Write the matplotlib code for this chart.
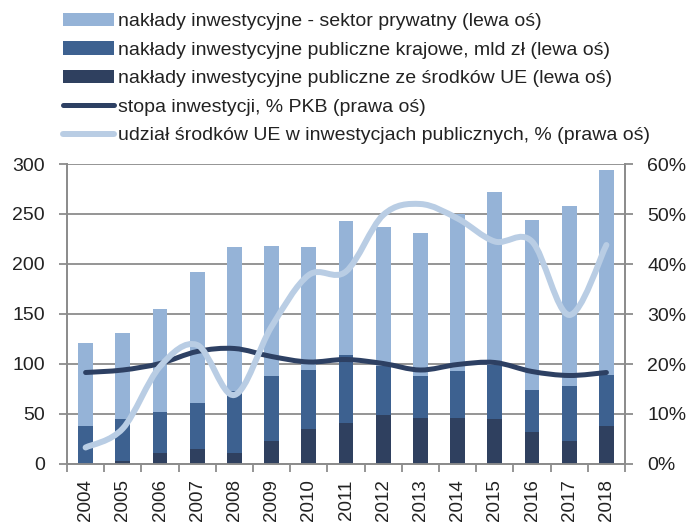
import numpy as np
import matplotlib
matplotlib.use("Agg")
import matplotlib.pyplot as plt
from matplotlib.path import Path
from matplotlib.patches import PathPatch, Patch
from matplotlib.lines import Line2D
from matplotlib.ticker import FuncFormatter, MultipleLocator

plt.rcParams["font.family"] = ["Liberation Sans", "DejaVu Sans"]

YEARS = ["2004", "2005", "2006", "2007", "2008", "2009", "2010", "2011",
         "2012", "2013", "2014", "2015", "2016", "2017", "2018"]
# totals (left axis, mld zl)
TOTAL = [120.7, 131, 155, 191.7, 217, 218.3, 217, 243.3,
         237.3, 231, 250, 271.7, 244.3, 257.7, 294.3]
# top of the "publiczne krajowe" segment
PUBLIC_TOP = [38, 45, 52, 61.3, 73, 88, 94, 109.3,
              98, 88.3, 93.3, 99, 74.3, 78, 88.7]
EU_FUNDS = [0, 3, 10.7, 14.7, 10.7, 23.3, 35.3, 41.3,
            49, 45.7, 45.7, 45, 32.3, 23.3, 38.3]
INV_RATE = [18.3, 18.8, 20.1, 22.5, 23.1, 21.5, 20.4, 20.9,
            20.1, 18.8, 19.9, 20.3, 18.5, 17.7, 18.3]
EU_SHARE = [3.3, 7.1, 19.5, 23.8, 13.8, 27.5, 37.8, 38.5,
            49.8, 52.0, 49.1, 44.5, 44.5, 29.8, 43.8]

LABELS = [
    "nakłady inwestycyjne - sektor prywatny (lewa oś)",
    "nakłady inwestycyjne publiczne krajowe, mld zł (lewa oś)",
    "nakłady inwestycyjne publiczne ze środków UE (lewa oś)",
    "stopa inwestycji, % PKB (prawa oś)",
    "udział środków UE w inwestycjach publicznych, % (prawa oś)",
]

C_PRIV = "#95B3D7"
C_PUB = "#3D6190"
C_EU = "#2F405F"
C_RATE = "#2D4063"
C_SHARE = "#B9CDE4"
GRID = "#8c8c8c"
TXT = "#222222"


def smooth_path(x, y):
    # Excel-like smoothed line: cubic bezier with catmull-rom tangents
    x = np.asarray(x, float)
    y = np.asarray(y, float)
    verts = [(x[0], y[0])]
    codes = [Path.MOVETO]
    n = len(x)
    for i in range(n - 1):
        p0 = i - 1 if i > 0 else i
        p3 = i + 2 if i + 2 < n else i + 1
        c1 = (x[i] + (x[i + 1] - x[p0]) / 6, y[i] + (y[i + 1] - y[p0]) / 6)
        c2 = (x[i + 1] - (x[p3] - x[i]) / 6, y[i + 1] - (y[p3] - y[i]) / 6)
        verts += [c1, c2, (x[i + 1], y[i + 1])]
        codes += [Path.CURVE4] * 3
    return Path(verts, codes)


fig = plt.figure(figsize=(6.88, 5.24), dpi=100)
ax = fig.add_axes([67 / 688, 60 / 524, 558 / 688, 300 / 524])
ax2 = ax.twinx()

x = np.arange(len(YEARS))
total = np.array(TOTAL)
pub = np.array(PUBLIC_TOP)
eu = np.array(EU_FUNDS)
w = 0.4
ax.bar(x, eu, w, color=C_EU, zorder=3)
ax.bar(x, pub - eu, w, bottom=eu, color=C_PUB, zorder=3)
ax.bar(x, total - pub, w, bottom=pub, color=C_PRIV, zorder=3)

ax.set_ylim(0, 300)
ax.set_xlim(-0.5, len(YEARS) - 0.5)
ax.yaxis.set_major_locator(MultipleLocator(50))
ax.grid(axis="y", color=GRID, linewidth=1.3, zorder=0)
ax.set_axisbelow(True)

ax2.set_ylim(0, 60)
ax2.yaxis.set_major_locator(MultipleLocator(10))
ax2.yaxis.set_major_formatter(FuncFormatter(lambda v, p: f"{v:.0f}%"))

ax2.add_patch(PathPatch(smooth_path(x, INV_RATE), fill=False, edgecolor=C_RATE,
                        linewidth=3.6, capstyle="round", joinstyle="round"))
ax2.add_patch(PathPatch(smooth_path(x, EU_SHARE), fill=False, edgecolor=C_SHARE,
                        linewidth=4.3, capstyle="round", joinstyle="round"))

ax.set_xticks(x)
ax.set_xticklabels(YEARS, rotation=90, fontsize=13.5, color=TXT)
ax.set_xticks(np.arange(-0.5, len(YEARS), 1), minor=True)
ax.tick_params(axis="x", which="major", length=0, pad=11)
ax.tick_params(axis="x", which="minor", length=6, width=1.3, color=GRID)
ax.tick_params(axis="y", labelsize=14, labelcolor=TXT, length=6, width=1.3,
               color=GRID, pad=10)
ax2.tick_params(axis="y", labelsize=14, labelcolor=TXT, length=6, width=1.3,
                color=GRID, pad=10)

for a in (ax, ax2):
    a.spines["top"].set_visible(False)
    for s in ("left", "right", "bottom"):
        a.spines[s].set_color(GRID)
        a.spines[s].set_linewidth(1.3)

handles = [
    Patch(facecolor=C_PRIV),
    Patch(facecolor=C_PUB),
    Patch(facecolor=C_EU),
    Line2D([], [], color=C_RATE, linewidth=3.6, solid_capstyle="round"),
    Line2D([], [], color=C_SHARE, linewidth=4.3, solid_capstyle="round"),
]
leg = fig.legend(handles, LABELS, loc="upper left",
                 bbox_to_anchor=(50 / 688, 1.0), frameon=False, fontsize=14,
                 handlelength=2.65, handleheight=0.68, handletextpad=0.2,
                 labelspacing=0.57, borderpad=0.15)
for t in leg.get_texts():
    t.set_color(TXT)

fig.savefig("out.png", dpi=100)
